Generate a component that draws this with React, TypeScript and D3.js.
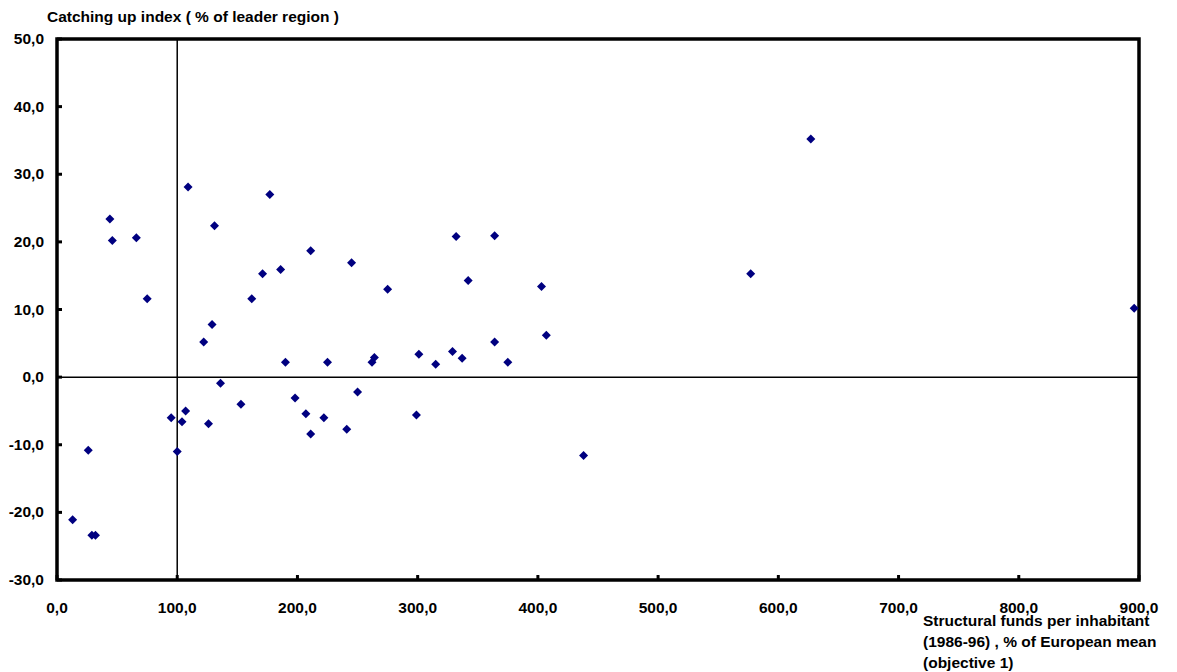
import * as d3 from "d3";

const xs = [13, 26, 29, 32, 44, 46, 66, 75, 95, 100, 104, 107, 109, 122, 126, 129, 131, 136, 153, 162, 171, 177, 186, 190, 198, 207, 211, 211, 222, 225, 241, 245, 250, 262, 264, 275, 299, 301, 315, 329, 332, 337, 342, 364, 364, 375, 403, 407, 438, 577, 627, 896];
const ys = [-21.1, -10.8, -23.4, -23.4, 23.4, 20.2, 20.6, 11.6, -6.0, -11.0, -6.6, -5.0, 28.1, 5.2, -6.9, 7.8, 22.4, -0.9, -4.0, 11.6, 15.3, 27.0, 15.9, 2.2, -3.1, -5.4, 18.7, -8.4, -6.0, 2.2, -7.7, 16.9, -2.2, 2.2, 2.9, 13.0, -5.6, 3.4, 1.9, 3.8, 20.8, 2.8, 14.3, 20.9, 5.2, 2.2, 13.4, 6.2, -11.6, 15.3, 35.2, 10.2];
const xTicks = [0, 100, 200, 300, 400, 500, 600, 700, 800, 900];
const yTicks = [-30, -20, -10, 0, 10, 20, 30, 40, 50];

const fmt = (v: number) => v.toFixed(1).replace(".", ",");

export default function App() {
  const W = 1177, H = 672;
  const L = 57, R = 1139, T = 39, B = 580;
  const x = d3.scaleLinear().domain([0, 900]).range([L, R]);
  const y = d3.scaleLinear().domain([-30, 50]).range([B, T]);
  const font = "'Liberation Sans', Arial, sans-serif";
  return (
    <svg width={W} height={H} style={{ position: "absolute", left: 0, top: 0, background: "#fff" }} fontFamily={font} fontWeight="bold" fontSize={15.5}>
      <text x={47} y={22}>Catching up index ( % of leader region )</text>
      <line x1={x(100)} x2={x(100)} y1={T} y2={B} stroke="#000" strokeWidth={1.5} />
      <line x1={L} x2={R} y1={y(0)} y2={y(0)} stroke="#000" strokeWidth={1.5} />
      <rect x={L} y={T} width={R - L} height={B - T} fill="none" stroke="#000" strokeWidth={3.5} />
      {yTicks.map(t => (
        <g key={t}>
          <line x1={L} x2={L + 5} y1={y(t)} y2={y(t)} stroke="#000" strokeWidth={3} />
          <text x={L - 13} y={y(t) + 5} textAnchor="end">{fmt(t)}</text>
        </g>
      ))}
      {xTicks.map(t => (
        <g key={t}>
          <line x1={x(t)} x2={x(t)} y1={B} y2={B - 5} stroke="#000" strokeWidth={3} />
          <text x={x(t)} y={B + 33} textAnchor="middle">{fmt(t)}</text>
        </g>
      ))}
      <text x={923} y={626}>Structural funds per inhabitant</text>
      <text x={923} y={647}>(1986-96) , % of European mean</text>
      <text x={923} y={668}>(objective 1)</text>
      {xs.map((v, i) => (
        <path key={i} d="M0,-4.5L4.5,0L0,4.5L-4.5,0Z" transform={`translate(${x(v)},${y(ys[i])})`} fill="#000080" />
      ))}
    </svg>
  );
}
